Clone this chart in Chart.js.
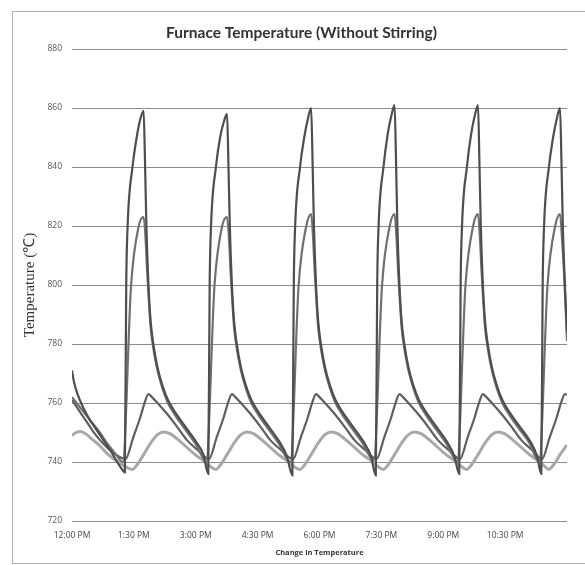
<!DOCTYPE html>
<html>
<head>
<meta charset="utf-8">
<script src="https://cdn.jsdelivr.net/npm/chart.js@4/dist/chart.umd.min.js"></script>
<style>
  html, body { margin: 0; padding: 0; background: #fff; }
  #frame { position: absolute; left: 12px; top: 11px; width: 600px; height: 551px; border: 1px solid #b4b4b4; border-right: none; }
  #c { position: absolute; left: 0; top: 0; }
</style>
</head>
<body>
<div id="frame"></div>
<canvas id="c" width="585" height="565"></canvas>
<script>
// ---- Data (time in minutes after 12:00 PM, temperature in °C) ----
const tickLabels = ['12:00 PM','1:30 PM','3:00 PM','4:30 PM','6:00 PM','7:30 PM','9:00 PM','10:30 PM'];

const timesA = [0,3,8,15,25,35,45,55,65,72,76,78,80,87,93,98,103,
  105,107,110,113,117,123,130,138,148,163,178,189,196,198,200,207,213,218,223,
  225,227,230,233,237,243,250,258,268,283,298,309,317,319,321,328,334,339,344,
  346,348,351,354,358,364,371,379,389,404,419,430,437,439,441,448,454,459,464,
  466,468,471,474,478,484,491,499,509,524,539,550,557,559,561,568,574,579,584,
  586,588,591,594,598,604,611,619,629,644,659,669,675,677,679,686,692,697,702,
  704,706,709,712];
const tempsA = [771,767,763,759,754.5,751,747.5,744,740,737.5,736.5,800,820,840,850,856,859,
  842,820,800,788,780,772,766,761,757,752,747,742.5,736,800,820,840,850,855,858,
  841,820,800,788,780,772,766,761,757,752,747,742,735.5,800,820,840,850,856,860,
  842,820,800,788,780,772,766,761,757,752,747,742,735.5,800,820,840,851,857,861,
  843,820,800,788,780,772,766,761,757,752,747,742,736,800,820,840,851,857,861,
  842,820,800,788,780,772,766,761,757,752,747,742,736,800,820,840,850,856,860,
  842,820,800,784];

const timesB = [0,10,20,30,40,50,60,68,73,85,96,103,
  106,108,110,113,117,123,130,138,148,163,178,187,193,205,216,223,
  226,228,230,233,237,243,250,258,268,283,298,307,314,326,337,344,
  347,349,351,354,358,364,371,379,389,404,419,428,434,446,457,464,
  467,469,471,474,478,484,491,499,509,524,539,548,554,566,577,584,
  587,589,591,594,598,604,611,619,629,644,659,666,672,684,695,702,
  705,708,712];
const tempsB = [762,759,756,753,750,746.5,743.5,741,740,800,820,823,
  815,805,797,786,778.5,771,765,760,756,751,746,742,740,800,820,823,
  815,805,797,786,778.5,771,765,760,756,751,746,742,740,800,820,824,
  815,805,797,786,778.5,771,765,760,756,751,746,742,740.5,800,820,824,
  815,805,797,786,778.5,771,765,760,756,751,746,742,740,800,820,824,
  815,805,797,786,778.5,771,765,760,756,751,746,742,740,800,820,824,
  815,803,781];

const timesC = [0,10,20,30,40,50,60,70,77,88,98,105,110,115,123,136,151,165,181,
  197,208,218,225,230,235,243,256,271,285,301,
  318,329,339,346,351,356,364,377,392,406,422,
  438,449,459,466,471,476,484,497,512,526,542,
  558,569,579,586,591,596,604,617,632,646,662,
  676,687,697,704,709,712];
const tempsC = [761,757.5,754,750.5,747.5,745,743,741.5,741,748.3,755,760.5,763,762,760,756.5,752,747.5,744,
  741,748.3,755,760.5,763,762,760,756.5,752,747.5,744,
  741,748.3,755,760.5,763,762,760,756.5,752,747.5,744,
  741,748.3,755,760.5,763,762,760,756.5,752,747.5,744,
  741,748.3,755,760.5,763,762,760,756.5,752,747.5,744,
  741,748.3,755,760.5,763,762.8];

const timesD = [0,6,12,20,30,40,50,60,70,80,87,95,103,113,123,132,141,153,165,177,189,199,
  207,215,223,233,243,252,261,273,285,297,309,319,
  328,336,344,354,364,373,382,394,406,418,430,440,
  448,456,464,474,484,493,502,514,526,538,550,560,
  568,576,584,594,604,613,622,634,646,658,670,680,
  686,694,702,712];
const tempsD = [749,750,750.3,749.5,747.5,745.5,743,741,739.5,738,737.5,739.5,742.5,746.4,749.3,750.2,749.6,747.5,745,742.5,740.5,738.5,
  737.5,739.5,742.5,746.4,749.3,750.2,749.6,747.5,745,742.5,740.5,738.5,
  737.5,739.5,742.5,746.4,749.3,750.2,749.6,747.5,745,742.5,740.5,738.5,
  737.5,739.5,742.5,746.4,749.3,750.2,749.6,747.5,745,742.5,740.5,738.5,
  737.5,739.5,742.5,746.4,749.3,750.2,749.6,747.5,745,742.5,740.5,738.5,
  737.5,739.5,742.5,745.8];

function pts(ts, vs) { return ts.map((t, i) => ({ x: t, y: vs[i] })); }

const common = { pointRadius: 0, fill: false, cubicInterpolationMode: 'monotone' };

new Chart(document.getElementById('c'), {
  type: 'line',
  data: {
    datasets: [
      Object.assign({ label: 'A', data: pts(timesA, tempsA), borderColor: '#4e4e4e', borderWidth: 2.2 }, common),
      Object.assign({ label: 'B', data: pts(timesB, tempsB), borderColor: '#707070', borderWidth: 2.2 }, common),
      Object.assign({ label: 'C', data: pts(timesC, tempsC), borderColor: '#5e5e5e', borderWidth: 2.2 }, common),
      Object.assign({ label: 'D', data: pts(timesD, tempsD), borderColor: '#a8a8a8', borderWidth: 3 }, common)
    ]
  },
  options: {
    responsive: false,
    animation: false,
    devicePixelRatio: 1,
    layout: { padding: { left: 36, right: 18, top: 0, bottom: 0 } },
    plugins: {
      legend: { display: false },
      tooltip: { enabled: false },
      title: {
        display: true,
        text: 'Furnace Temperature (Without Stirring)',
        color: '#333',
        font: { family: 'Lato', size: 15.5, weight: 'bold', lineHeight: 1.2 },
        padding: { top: 24, bottom: 6.4 }
      }
    },
    scales: {
      x: {
        type: 'linear',
        min: 0,
        max: 712,
        grid: { display: false, drawTicks: false },
        border: { display: false },
        ticks: {
          stepSize: 90,
          includeBounds: false,
          padding: 9,
          color: '#444',
          font: { family: 'Open Sans', size: 8.5 },
          maxRotation: 0,
          autoSkip: false,
          callback: (v) => tickLabels[Math.round(v / 90)]
        },
        title: {
          display: true,
          text: 'Change in Temperature',
          color: '#333',
          font: { family: 'Open Sans', size: 7.5, weight: 'bold', lineHeight: 1.2 },
          padding: { top: 0, bottom: 8 }
        },
        afterFit: (s) => { s.height = 44; }
      },
      y: {
        min: 720,
        max: 880,
        grid: { color: '#8c8c8c', lineWidth: 1, drawTicks: false },
        border: { display: false },
        ticks: {
          stepSize: 20,
          padding: 10,
          color: '#555',
          font: { family: 'Open Sans', size: 8.5 }
        },
        title: {
          display: true,
          text: 'Temperature (℃)',
          color: '#333',
          font: { family: 'Liberation Serif', size: 15, lineHeight: 1.2 },
          padding: { top: -15, bottom: 0 }
        },
        afterFit: (s) => { s.width = 36; }
      }
    }
  }
});
</script>
</body>
</html>
